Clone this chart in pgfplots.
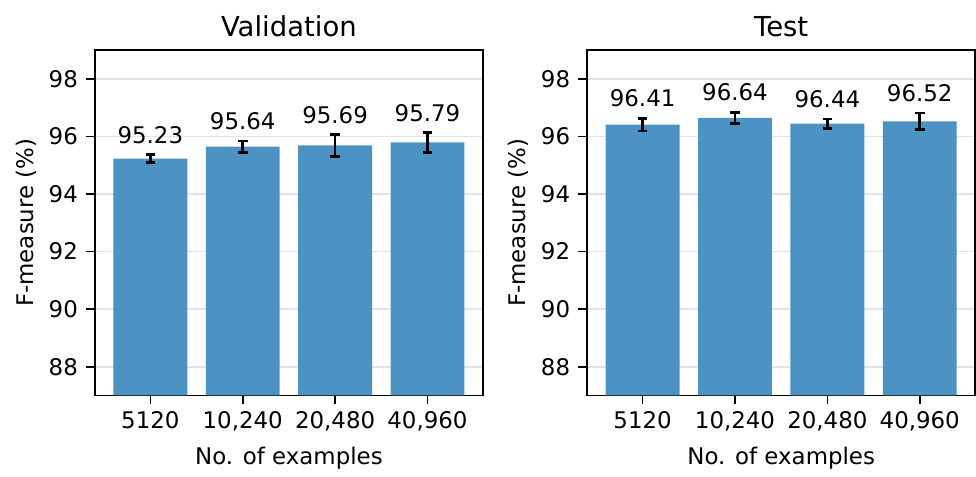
\documentclass[border=0pt]{standalone}
\usepackage{pgfplots}
\pgfplotsset{compat=1.18}
\usepackage{pgfplotstable}
\usetikzlibrary{calc}
\usepackage{fontspec}
\setmainfont{DejaVu Sans}

\definecolor{barblue}{HTML}{4C92C3}
\definecolor{gridgray}{HTML}{E3E3E3}

% columns: position, F-measure, half-width of the error bar
\pgfplotstableread{
x y err
0 95.23 0.14
1 95.64 0.20
2 95.69 0.38
3 95.79 0.34
}\valdata
\pgfplotstableread{
x y err
0 96.41 0.22
1 96.64 0.20
2 96.44 0.16
3 96.52 0.29
}\testdata

\pgfplotsset{
  fm/.style={
    scale only axis,
    width=186.4pt, height=166pt,
    ymin=87, ymax=99,
    xmin=-0.6, xmax=3.6,
    ytick={88,90,...,98},
    xtick={0,1,2,3},
    xticklabels={5120,{10,240},{20,480},{40,960}},
    ymajorgrids,
    major grid style={gridgray, line width=0.8pt},
    axis line style={line width=0.8pt},
    tick style={black, line width=0.8pt},
    tick align=outside,
    major tick length=4.2pt,
    xtick pos=bottom, ytick pos=left,
    ticklabel style={font=\fontsize{11}{13}\selectfont},
    /pgf/number format/assume math mode=true,
    xticklabel style={anchor=north, inner sep=0pt, yshift=-3.4pt},
    yticklabel style={anchor=east, inner sep=0pt, xshift=-3.8pt},
    label style={font=\fontsize{11}{13}\selectfont},
    title style={font=\fontsize{13.2}{15}\selectfont,
      at={(axis description cs:0.5,1)}, anchor=base, yshift=0.4pt},
    xlabel={No. of examples},
    ylabel={F-measure (\%)},
    xlabel style={at={($(axis description cs:0.5,0)+(0,-33.2pt)$)}, anchor=base},
    ylabel style={at={($(axis description cs:0,0.5)+(-29.7pt,0)$)}, anchor=base, rotate=0},
  },
  barplot/.style={
    ybar, bar width=0.8, bar shift=0pt,
    fill=barblue, draw=none,
    error bars/.cd, y dir=both, y explicit,
    error bar style={black, line width=1.3pt},
    error mark options={black, line width=1.3pt, mark size=2.3pt, rotate=90},
  },
  valuelabels/.style={
    only marks, mark=none,
    point meta=explicit,
    nodes near coords={\pgfmathprintnumber[fixed, fixed zerofill, precision=2]{\pgfplotspointmeta}},
    every node near coord/.style={anchor=base, inner sep=0pt, yshift=5.4pt,
      font=\fontsize{11}{13}\selectfont, black},
  },
}

\begin{document}
\begin{tikzpicture}
\begin{axis}[fm, title={Validation}, at={(0pt,0pt)}]
  \addplot[barplot] table[x=x, y=y, y error=err] {\valdata};
  \addplot[valuelabels] table[x=x, y expr=\thisrow{y}+\thisrow{err}, meta=y] {\valdata};
\end{axis}
\begin{axis}[fm, title={Test}, at={(236.5pt,0pt)}]
  \addplot[barplot] table[x=x, y=y, y error=err] {\testdata};
  \addplot[valuelabels] table[x=x, y expr=\thisrow{y}+\thisrow{err}, meta=y] {\testdata};
\end{axis}
\path[use as bounding box] (-45.6pt,-32.6pt) rectangle (422.6pt,190pt);
\end{tikzpicture}
\end{document}
